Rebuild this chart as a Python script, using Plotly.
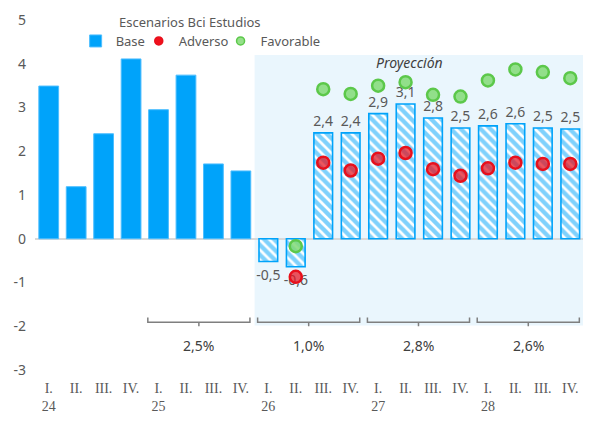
import plotly.graph_objects as go

quarters = ["I.", "II.", "III.", "IV."] * 5
years = ["24", "25", "26", "27", "28"]
tick_labels = []
for i, q in enumerate(quarters):
    if i % 4 == 0:
        tick_labels.append(q + "<br>" + years[i // 4])
    else:
        tick_labels.append(q)

y_ticks = [-3, -2, -1, 0, 1, 2, 3, 4, 5]
hist_base = [3.49, 1.19, 2.40, 4.11, 2.95, 3.74, 1.71, 1.55]
proj_base = [-0.52, -0.64, 2.42, 2.42, 2.86, 3.08, 2.76, 2.53, 2.58, 2.63, 2.53, 2.51]
adverso = [None, -0.87, 1.74, 1.56, 1.83, 1.96, 1.59, 1.44, 1.61, 1.74, 1.71, 1.71]
favorable = [None, -0.17, 3.42, 3.31, 3.50, 3.58, 3.29, 3.25, 3.62, 3.87, 3.81, 3.67]
annual_labels = ["2,5%", "1,0%", "2,8%", "2,6%"]
annual_start_idx = [4, 8, 12, 16]

n_hist = len(hist_base)
x_hist = list(range(n_hist))
x_proj = list(range(n_hist, n_hist + len(proj_base)))
proj_text = [f"{v:.1f}".replace(".", ",") for v in proj_base]

BLUE = "#00A3FA"
GRAY = "#595959"
FONT = "Noto Sans"
RED_FILL = "rgba(232,20,30,0.72)"
RED_LINE = "#E8101C"
GREEN_FILL = "rgba(130,218,118,0.85)"
GREEN_LINE = "#5CC84A"

fig = go.Figure()

fig.add_trace(go.Bar(
    x=x_hist, y=hist_base, name="Base", width=0.72,
    marker=dict(color=BLUE, line=dict(color="#4DBEFF", width=1)),
    showlegend=True, legend="legend",
))
fig.add_trace(go.Bar(
    x=x_proj, y=proj_base, name="Base proy", width=0.68,
    marker=dict(color="white",
                line=dict(color=BLUE, width=1.6),
                pattern=dict(shape="\\", fgcolor=BLUE, bgcolor="white", size=7, solidity=0.62)),
    text=proj_text, texttemplate="%{text}", textposition="outside", constraintext="none",
    textfont=dict(family=FONT, size=14, color=GRAY),
    cliponaxis=False, showlegend=False,
))
fig.add_trace(go.Scatter(
    x=x_proj, y=adverso, mode="markers", name="Adverso", showlegend=False,
    marker=dict(size=12, color=RED_FILL, line=dict(color=RED_LINE, width=2.5)),
))
fig.add_trace(go.Scatter(
    x=x_proj, y=favorable, mode="markers", name="Favorable", showlegend=False,
    marker=dict(size=12, color=GREEN_FILL, line=dict(color=GREEN_LINE, width=2.5)),
))
# legend entries with smaller symbols
fig.add_trace(go.Scatter(
    x=[None], y=[None], mode="markers", name="Adverso", legend="legend2",
    marker=dict(size=8, color="#F0101C", line=dict(color=RED_LINE, width=1.5)),
))
fig.add_trace(go.Scatter(
    x=[None], y=[None], mode="markers", name="Favorable", legend="legend3",
    marker=dict(size=8, color=GREEN_FILL, line=dict(color=GREEN_LINE, width=1.5)),
))

shapes = [dict(type="rect", xref="x", yref="y", x0=n_hist - 0.5, x1=len(quarters) - 0.5,
               y0=-1.98, y1=4.2, fillcolor="#EAF6FD", line=dict(width=0), layer="below")]
annotations = [
    dict(text="Proyección", x=13.15, y=4.04, xref="x", yref="y", showarrow=False,
         font=dict(family=FONT, size=14, color="#404040", style="italic")),
    dict(text="Escenarios Bci Estudios", x=0.283, y=0.994, xref="paper", yref="paper",
         xanchor="center", yanchor="middle",
         showarrow=False, font=dict(family=FONT, size=13, color=GRAY)),
]

for lab, s in zip(annual_labels, annual_start_idx):
    x0 = s - 0.39
    x1 = s + 3 + 0.33
    xm = (x0 + x1) / 2
    path = f"M {x0},-1.80 L {x0},-1.91 L {x1},-1.91 L {x1},-1.80 M {xm},-1.91 L {xm},-2.0"
    shapes.append(dict(type="path", path=path, xref="x", yref="y",
                       line=dict(color="#7F7F7F", width=1.5)))
    annotations.append(dict(text=lab, x=xm, y=-2.44, xref="x", yref="y", showarrow=False,
                            font=dict(family=FONT, size=14, color="#404040")))

leg_common = dict(orientation="h", y=0.94, yanchor="middle", xanchor="left",
                  font=dict(family=FONT, size=13, color=GRAY), bgcolor="rgba(0,0,0,0)",
                  itemwidth=30)

fig.update_layout(
    width=583, height=417,
    margin=dict(l=27, r=7, t=12, b=55),
    plot_bgcolor="white", paper_bgcolor="white",
    separators=",.",
    barmode="overlay",
    shapes=shapes, annotations=annotations,
    font=dict(family=FONT, size=13, color=GRAY),
    legend=dict(x=0.074, **leg_common),
    legend2=dict(x=0.189, **leg_common),
    legend3=dict(x=0.338, **leg_common),
    xaxis=dict(range=[-0.5, 19.5], tickmode="array", tickvals=list(range(20)),
               ticktext=tick_labels, showgrid=False, zeroline=False, showline=False,
               automargin=False, ticklabelstandoff=8,
               tickfont=dict(family="Liberation Serif", size=14, color=GRAY), ticks=""),
    yaxis=dict(range=[-3, 5], tickmode="array", tickvals=y_ticks,
               ticktext=[str(t) for t in y_ticks], showgrid=False, automargin=False,
               ticklabelstandoff=8,
               zeroline=True, zerolinecolor="#D9D9D9", zerolinewidth=1.5,
               showline=False, tickfont=dict(family=FONT, size=14, color=GRAY), ticks=""),
)

fig.write_html("out.html")
